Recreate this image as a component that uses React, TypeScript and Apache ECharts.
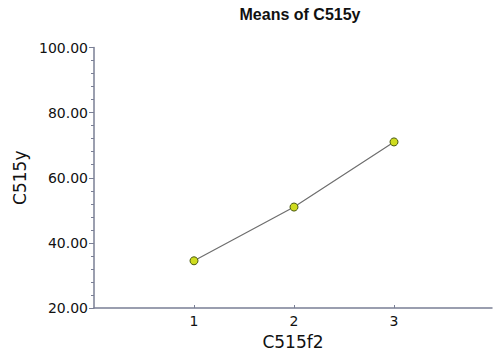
import React, { useEffect, useRef } from "react";
import * as echarts from "echarts";

const categories = [1, 2, 3];
const means = [34.5, 51.0, 71.0];
const yTicks = { min: 20, max: 100, interval: 20 };

export default function App() {
  const ref = useRef<HTMLDivElement>(null);
  useEffect(() => {
    const chart = echarts.init(ref.current!, null, { renderer: "svg" });
    const font = "DejaVu Sans";
    chart.setOption({
      animation: false,
      backgroundColor: "#ffffff",
      title: {
        text: "Means of C515y",
        left: 295,
        top: 1,
        textAlign: "center",
        textStyle: { fontFamily: "Liberation Sans", fontSize: 16, fontWeight: "bold", color: "#111" },
      },
      grid: { left: 94, right: 3, top: 47.5, bottom: 45, outerBoundsMode: "none", containLabel: false },
      xAxis: {
        type: "value",
        min: 0,
        max: 3.98,
        interval: 1,
        name: "C515f2",
        nameLocation: "middle",
        nameGap: 25,
        nameTextStyle: { fontFamily: font, fontSize: 17, color: "#111" },
        axisLine: { lineStyle: { color: "#7a7f95", width: 1.5 } },
        axisTick: {
          show: true,
          inside: true,
          length: 3,
          lineStyle: { color: "#7a7f95" },
          customValues: categories,
        },
        axisLabel: {
          customValues: categories,
          fontFamily: font,
          fontSize: 14,
          color: "#111",
          margin: 6,
        },
        splitLine: { show: false },
      },
      yAxis: {
        type: "value",
        min: yTicks.min,
        max: yTicks.max,
        interval: yTicks.interval,
        name: "C515y",
        nameLocation: "middle",
        nameGap: 66,
        nameTextStyle: { fontFamily: font, fontSize: 17, color: "#111" },
        axisLine: { show: true, lineStyle: { color: "#7a7f95", width: 1.5 } },
        axisTick: { show: true, length: 5, lineStyle: { color: "#7a7f95" } },
        minorTick: { show: true, splitNumber: 5, length: 3, lineStyle: { color: "#7a7f95" } },
        axisLabel: {
          formatter: (v: number) => v.toFixed(2),
          fontFamily: font,
          fontSize: 14,
          color: "#111",
          margin: 6,
        },
        splitLine: { show: false },
      },
      series: [
        {
          type: "line",
          data: categories.map((c, i) => [c, means[i]]),
          symbol: "circle",
          symbolSize: 8,
          lineStyle: { color: "#6e6e6e", width: 1.2 },
          itemStyle: { color: "#cfdc1e", borderColor: "#4a5a10", borderWidth: 1 },
        },
      ],
    });
    return () => chart.dispose();
  }, []);
  return <div ref={ref} style={{ width: 495, height: 353, position: "absolute", left: 0, top: 0 }} />;
}
